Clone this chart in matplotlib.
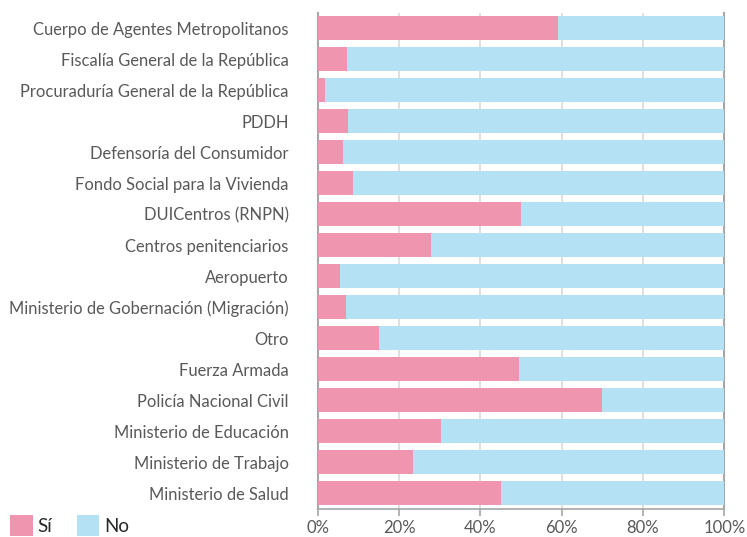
import matplotlib
matplotlib.use("Agg")
import matplotlib.pyplot as plt
from matplotlib.patches import Patch

categories = [
    "Cuerpo de Agentes Metropolitanos",
    "Fiscalía General de la República",
    "Procuraduría General de la República",
    "PDDH",
    "Defensoría del Consumidor",
    "Fondo Social para la Vivienda",
    "DUICentros (RNPN)",
    "Centros penitenciarios",
    "Aeropuerto",
    "Ministerio de Gobernación (Migración)",
    "Otro",
    "Fuerza Armada",
    "Policía Nacional Civil",
    "Ministerio de Educación",
    "Ministerio de Trabajo",
    "Ministerio de Salud",
]
si = [59.2, 7.2, 1.8, 7.4, 6.2, 8.7, 49.9, 27.8, 5.5, 6.9, 15.0, 49.4, 69.8, 30.3, 23.4, 45.2]
no = [100 - v for v in si]
xticks = [0, 20, 40, 60, 80, 100]
xtick_labels = ["0%", "20%", "40%", "60%", "80%", "100%"]

PINK = "#F095AF"
BLUE = "#B5E1F4"
TXT = "#595959"

plt.rcParams['font.family'] = ['Lato', 'DejaVu Sans']

fig = plt.figure(figsize=(7.47, 5.37), dpi=100)
ax = fig.add_axes([0.4253, 0.0530, 0.5443, 0.9234])

ypos = list(range(len(categories)))
ax.barh(ypos, si, height=0.77, color=PINK, zorder=3)
ax.barh(ypos, no, left=si, height=0.77, color=BLUE, zorder=3)

ax.set_ylim(len(categories) - 0.5, -0.5)
ax.set_xlim(0, 100)
ax.set_yticks(ypos)
ax.set_yticklabels(categories, fontsize=11.9, color=TXT)
ax.set_xticks(xticks)
ax.set_xticklabels(xtick_labels, fontsize=12, color=TXT)
ax.tick_params(axis='y', length=0, pad=21)
ax.tick_params(axis='x', length=5, color="#A6A6A6", width=1.2, pad=3)

ax.grid(axis='x', color="#D9D9D9", linewidth=1.2, zorder=0)
ax.spines['top'].set_visible(False)
ax.spines['right'].set_color("#A6A6A6")
ax.spines['right'].set_linewidth(1.5)
ax.spines['left'].set_color("#A6A6A6")
ax.spines['left'].set_linewidth(1.5)
ax.spines['bottom'].set_color("#A6A6A6")
ax.spines['bottom'].set_linewidth(1.2)

handles = [Patch(facecolor=PINK, edgecolor='none'), Patch(facecolor=BLUE, edgecolor='none')]
fig.legend(handles, ["Sí", "No"], loc='lower left', bbox_to_anchor=(0.014, 0.002), ncol=2,
           frameon=False, fontsize=13.5, handlelength=1.2, handleheight=1.3,
           handletextpad=0.25, columnspacing=1.3, labelcolor="#262626",
           borderaxespad=0, borderpad=0)

fig.savefig("out.png", dpi=100)
